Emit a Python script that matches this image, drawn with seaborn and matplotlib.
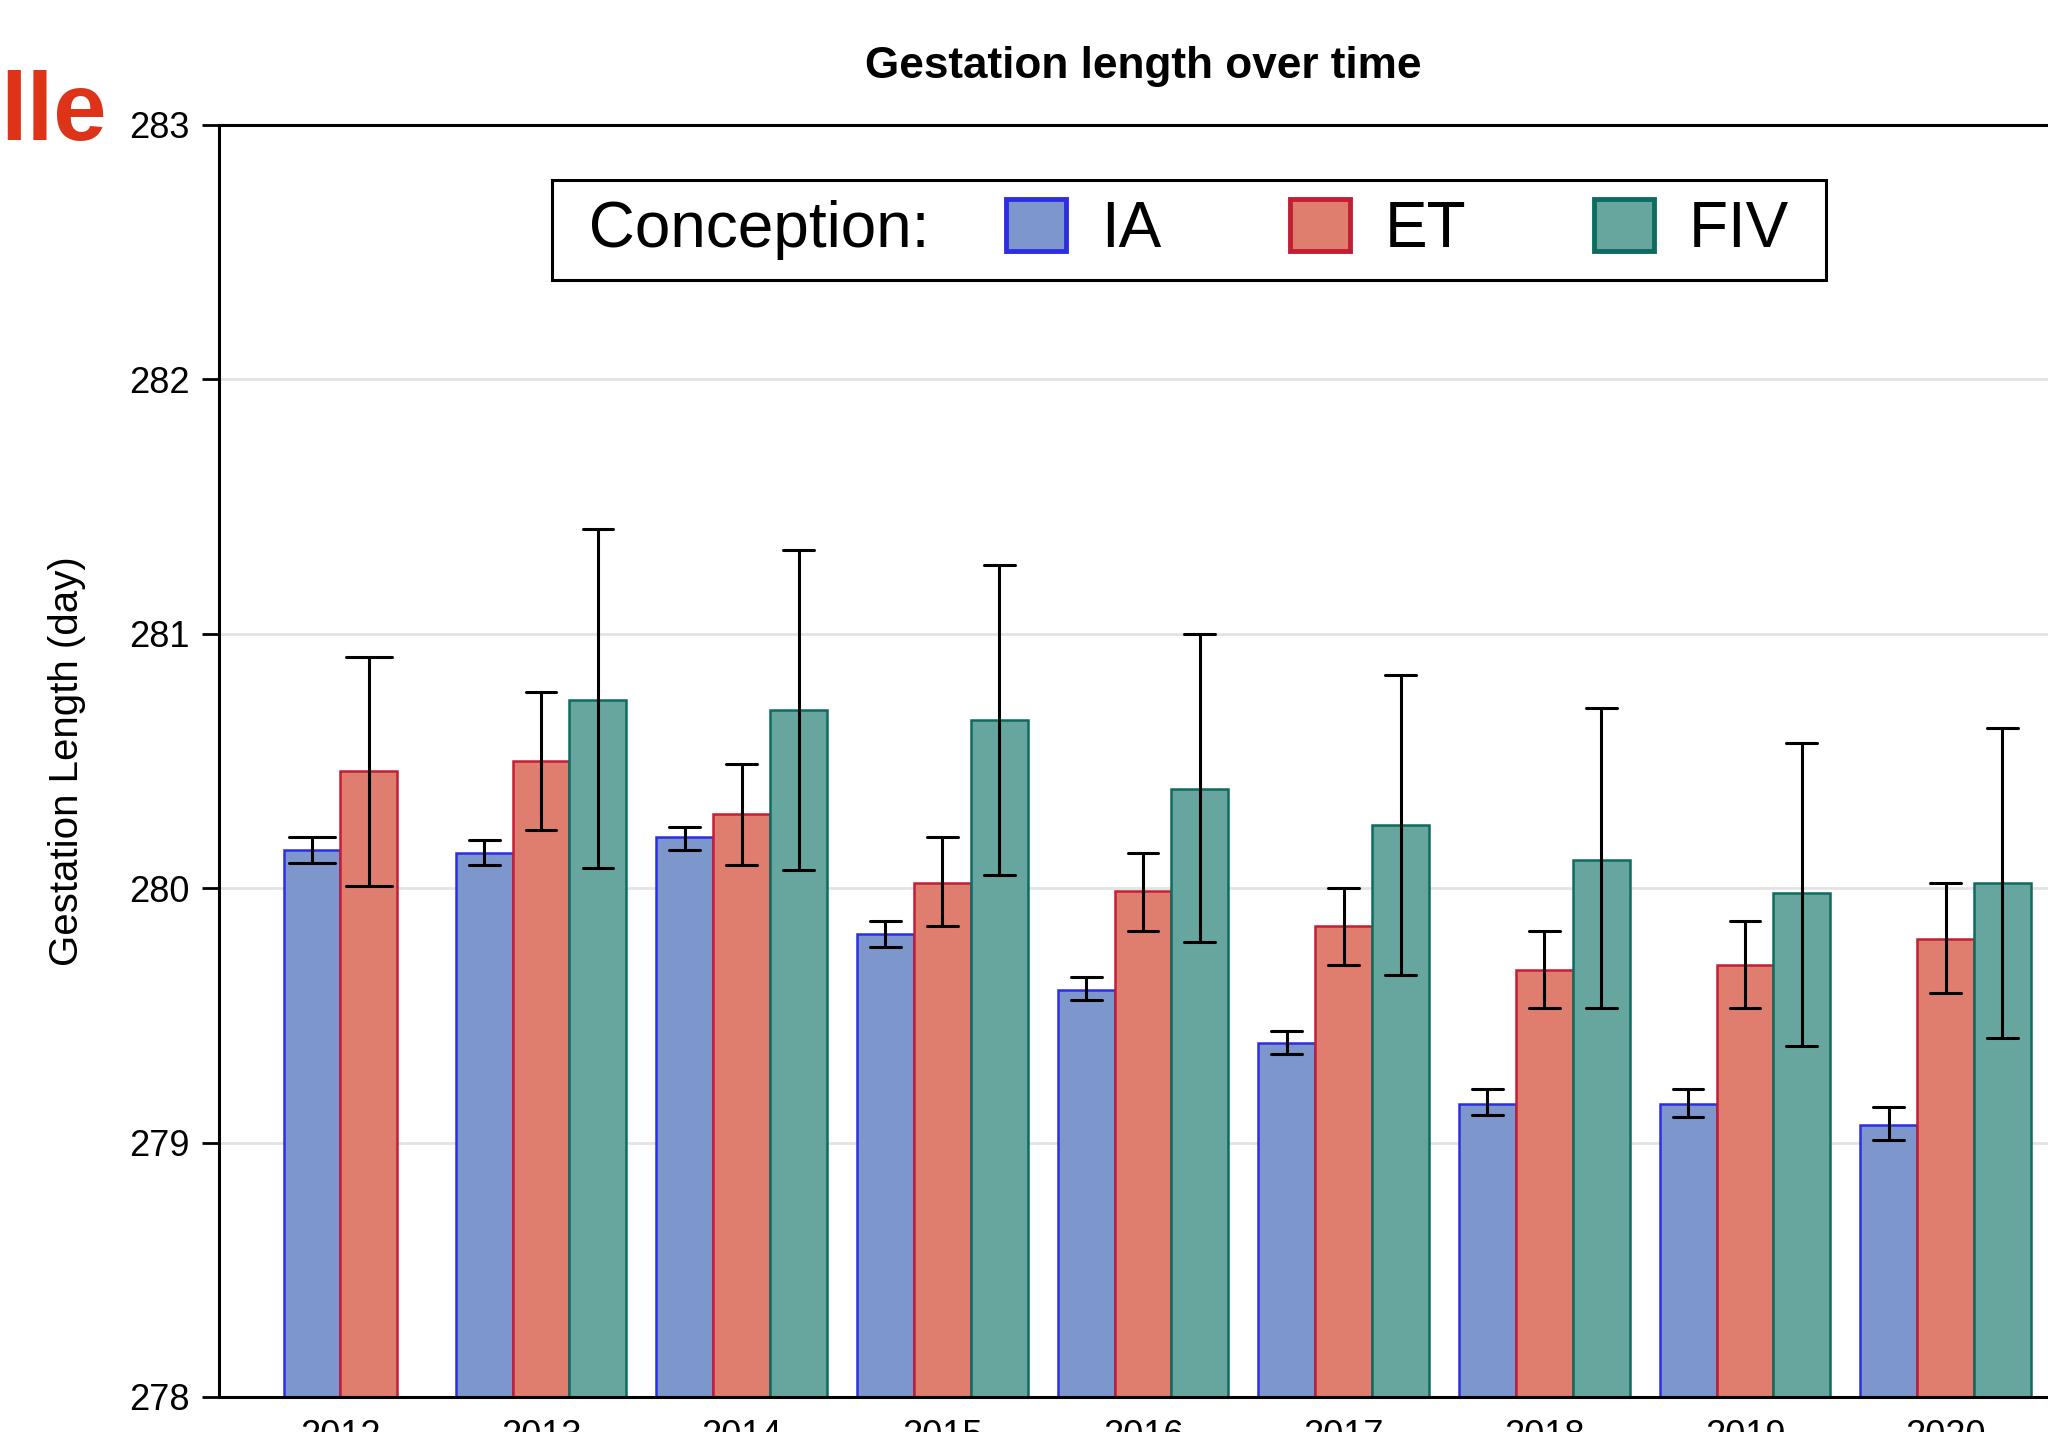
import numpy as np
import pandas as pd
import seaborn as sns
import matplotlib
matplotlib.use("Agg")
import matplotlib.pyplot as plt
from matplotlib.patches import Patch
from matplotlib.colors import to_rgba
from matplotlib.offsetbox import HPacker

# ---------------- data ----------------
years = ['2012', '2013', '2014', '2015', '2016', '2017', '2018', '2019', '2020']
conceptions = ['IA', 'ET', 'FIV']

ia_mean = [280.15, 280.14, 280.20, 279.82, 279.60, 279.39, 279.15, 279.15, 279.07]
ia_lo   = [280.10, 280.09, 280.15, 279.77, 279.56, 279.35, 279.11, 279.10, 279.01]
ia_hi   = [280.20, 280.19, 280.24, 279.87, 279.65, 279.44, 279.21, 279.21, 279.14]

et_mean = [280.46, 280.50, 280.29, 280.02, 279.99, 279.85, 279.68, 279.70, 279.80]
et_lo   = [280.01, 280.23, 280.09, 279.85, 279.83, 279.70, 279.53, 279.53, 279.59]
et_hi   = [280.91, 280.77, 280.49, 280.20, 280.14, 280.00, 279.83, 279.87, 280.02]

fiv_mean = [np.nan, 280.74, 280.70, 280.66, 280.39, 280.25, 280.11, 279.98, 280.02]
fiv_lo   = [np.nan, 280.08, 280.07, 280.05, 279.79, 279.66, 279.53, 279.38, 279.41]
fiv_hi   = [np.nan, 281.41, 281.33, 281.27, 281.00, 280.84, 280.71, 280.57, 280.63]

face_colors = {'IA': '#7D96CB', 'ET': '#DF7E6E', 'FIV': '#66A69E'}
edge_colors = {'IA': '#2E2EE0', 'ET': '#C21E34', 'FIV': '#0E6B5F'}

# long table: (lo, mean, hi) per group -> median gives mean, min/max give interval
rows = []
series = {'IA': (ia_mean, ia_lo, ia_hi), 'ET': (et_mean, et_lo, et_hi),
          'FIV': (fiv_mean, fiv_lo, fiv_hi)}
for c in conceptions:
    m, lo, hi = series[c]
    for i, y in enumerate(years):
        if np.isnan(m[i]):
            continue
        for v in (lo[i], m[i], hi[i]):
            rows.append({'Year': y, 'Conception': c, 'value': v})
df = pd.DataFrame(rows)

# ---------------- plot ----------------
sns.set_style('white')
plt.rcParams['font.family'] = ['Liberation Sans', 'DejaVu Sans']
plt.rcParams['text.color'] = 'black'
plt.rcParams['axes.labelcolor'] = 'black'
plt.rcParams['xtick.color'] = 'black'
plt.rcParams['ytick.color'] = 'black'

fig = plt.figure(figsize=(20.48, 14.32), dpi=100)
ax = fig.add_axes([219 / 2048, 1 - 1397 / 1432, 1848 / 2048, (1397 - 125) / 1432])

W = 0.85
common = dict(x='Year', y='value', hue='Conception', order=years,
              estimator='median', errorbar=lambda v: (v.min(), v.max()),
              palette=face_colors, saturation=1, capsize=0.46,
              err_kws={'color': 'black', 'linewidth': 2.2}, legend=False, ax=ax)

# 2012 has no FIV: two bars centred on the year
sns.barplot(data=df[df['Year'] == '2012'], hue_order=['IA', 'ET'], width=W * 2 / 3, **common)
sns.barplot(data=df[df['Year'] != '2012'], hue_order=conceptions, width=W, **common)

for p in ax.patches:
    fc = p.get_facecolor()
    for k, col in face_colors.items():
        if np.allclose(fc[:3], to_rgba(col)[:3], atol=0.01):
            p.set_edgecolor(edge_colors[k])
            p.set_linewidth(1.8)

ax.set_xlim(-0.605, len(years) - 1 + 0.605)
ax.set_ylim(278, 283)
ax.set_yticks([278, 279, 280, 281, 282, 283])
ax.yaxis.grid(True, color='#E3E3E3', linewidth=2)
ax.set_axisbelow(True)

for s in ['left', 'top', 'bottom', 'right']:
    ax.spines[s].set_color('black')
    ax.spines[s].set_linewidth(2.2)

ax.tick_params(axis='y', length=12, width=2, labelsize=26, pad=9, left=True)
ax.tick_params(axis='x', length=0, labelsize=26, pad=16)
ax.set_xlabel('')
ax.set_ylabel('Gestation Length (day)', fontsize=29, labelpad=31)
ax.set_title('Gestation length over time', fontsize=31.8, fontweight='bold', pad=34)

# legend, with its title inline
handles = [Patch(facecolor=face_colors[c], edgecolor=edge_colors[c], linewidth=3.5) for c in conceptions]
labels = ['IA', 'ET', 'FIV ']
leg = ax.legend(handles, labels, title=' Conception:', ncol=3, fontsize=46, title_fontsize=46,
                loc='upper left', bbox_to_anchor=(552 / 2048, 1 - 180 / 1432),
                bbox_transform=fig.transFigure, borderaxespad=0, frameon=True,
                fancybox=False, edgecolor='black', handlelength=0.94, handleheight=0.88,
                handletextpad=0.55, columnspacing=2.0, borderpad=0.3)
leg.get_frame().set_linewidth(2.2)
leg.get_frame().set_alpha(1)
fs = leg._fontsize
leg._legend_box = HPacker(pad=leg.borderpad * fs, sep=1.2 * fs, align='center',
                          children=[leg._legend_title_box, leg._legend_handle_box])
leg._legend_box.set_figure(fig)
leg._legend_box.axes = ax
if hasattr(leg, '_set_loc'):
    leg._set_loc(leg._loc)
else:
    leg._legend_box.set_offset(leg._findoffset)

# cropped red heading fragment
fig.text(107 / 2048, 1 - 140 / 1432, 'lle', ha='right', va='baseline', fontsize=69,
         fontweight='bold', color='#DD3319')

fig.savefig('out.png', dpi=100)
